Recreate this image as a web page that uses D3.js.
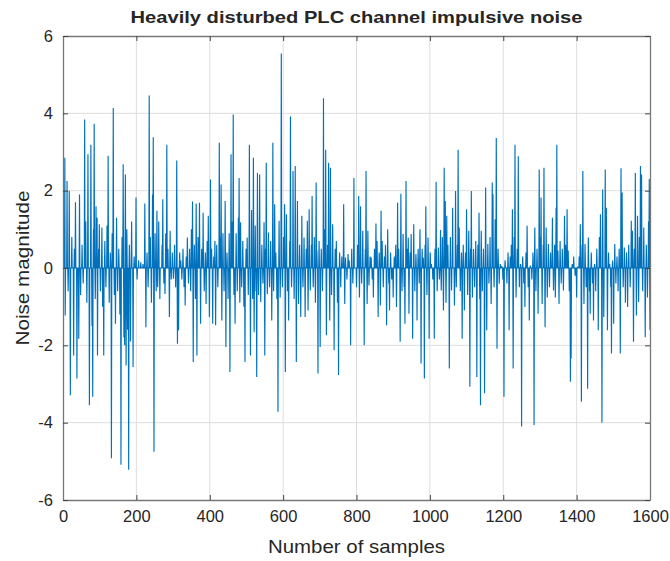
<!DOCTYPE html>
<html>
<head>
<meta charset="utf-8">
<script src="https://cdn.jsdelivr.net/npm/d3@7"></script>
<style>
  body { margin: 0; background: #fff; }
  svg text { font-family: "Liberation Sans", Arial, Helvetica, sans-serif; fill: #262626; }
</style>
</head>
<body>
<svg id="chart" width="670" height="561"></svg>
<script>
// chart texts and ticks
const title = "Heavily disturbed PLC channel impulsive noise";
const xLabel = "Number of samples";
const yLabel = "Noise magnitude";
const xTicks = [0, 200, 400, 600, 800, 1000, 1200, 1400, 1600];
const yTicks = [-6, -4, -2, 0, 2, 4, 6];
const sampleCount = 1600;

// impulses: [sample, magnitude], zero elsewhere
const impulses = [
  [5,2.85],[6,-1.23],[11,2.25],[14,-0.6],[17,2.0],[20,-3.29],[24,0.8],[29,-2.26],[31,0.5],[34,1.7],
  [38,-2.86],[43,-1.83],[45,1.9],[48,-0.7],[52,0.6],[55,-0.4],[59,3.84],[62,1.2],[65,-0.9],[68,2.94],
  [72,-3.55],[76,3.19],[79,-1.5],[81,-3.33],[83,1.0],[85,3.73],[88,-0.8],[90,1.6],[93,1.3],[94,-2.26],
  [97,0.5],[99,1.13],[102,-0.6],[106,1.05],[108,-1.0],[111,-2.26],[114,0.7],[117,-0.5],[120,1.1],[123,2.9],
  [126,-0.9],[129,0.4],[132,-4.92],[134,0.9],[137,4.14],[140,-0.7],[143,-1.44],[146,1.3],[149,-0.6],[152,0.5],
  [155,-1.2],[158,-5.09],[161,0.8],[164,2.68],[166,-1.8],[168,-2.0],[170,2.42],[172,-2.52],[174,1.0],[176,-1.6],
  [179,-5.22],[181,0.6],[184,-1.9],[187,1.2],[191,-2.56],[194,0.3],[199,1.82],[202,-0.3],[206,0.2],[212,0.15],
  [218,0.1],[223,1.67],[226,-1.53],[229,0.4],[232,-0.5],[235,4.46],[238,0.8],[241,-0.9],[244,1.9],[246,3.38],
  [248,-4.75],[251,0.9],[254,-0.6],[256,1.48],[258,-0.5],[261,1.2],[264,-0.8],
  [270,0.6],[272,1.78],[275,-0.4],[278,-0.67],[280,0.9],[283,3.19],[286,0.5],[290,-1.27],[292,0.96],[295,-0.3],
  [298,0.4],[301,-0.28],[304,0.6],[307,-0.5],[310,2.78],[312,-1.96],[315,-1.61],[318,0.4],[321,0.19],[324,-0.3],
  [327,0.5],[330,-0.5],[333,-0.97],[336,0.3],[339,0.79],[342,-0.4],[345,0.5],[348,-0.6],[350,1.0],[353,1.72],
  [355,-2.43],[358,0.6],[361,-0.8],[363,1.67],[365,-2.26],[368,0.8],[372,1.69],[375,-1.44],[378,0.5],[382,1.43],
  [385,-0.6],[388,0.4],[390,-0.93],[393,0.7],[396,1.35],[399,-1.27],[402,2.29],[405,0.5],[408,-1.44],[411,0.3],
  [414,0.7],[416,-1.48],[419,0.6],[422,-0.5],[426,3.24],[429,0.8],[431,2.16],[433,-1.36],[436,0.9],[439,-0.6],
  [442,1.73],[444,-2.04],[447,0.4],[450,-0.8],[453,0.9],[455,-2.69],[458,2.94],[461,1.2],[464,3.97],[466,-0.7],
  [469,-1.44],[472,0.9],[475,-0.6],[478,1.3],[480,2.33],[482,-0.9],[484,1.18],[487,-0.5],[490,0.7],[493,-1.0],
  [496,-2.43],[499,0.5],[502,0.79],[505,-0.7],[508,3.19],[511,-2.26],[514,1.5],[517,-0.8],[519,2.85],[521,-1.66],
  [524,1.1],[526,-0.6],[528,-2.82],[530,2.46],
  [533,-0.7],[536,2.42],[539,-0.88],[542,0.6],[545,-0.4],[548,1.18],[550,-2.26],[552,0.5],[554,2.72],[557,-0.67],
  [560,0.92],[563,-0.5],[566,0.7],[569,-1.36],[572,3.24],[574,-0.6],[577,1.65],[580,0.4],[583,-0.8],[586,-3.72],
  [589,1.22],[592,-0.76],[595,5.55],[598,-0.5],[601,0.8],[604,1.65],[606,-2.69],[609,1.39],[612,-0.6],[615,-1.36],
  [618,0.7],[620,3.92],[623,-0.5],[627,2.51],[630,-0.8],[633,2.64],[636,-2.43],[639,1.73],[642,-0.93],[645,0.6],
  [648,-1.27],[651,1.35],[654,-0.5],[657,0.79],[660,-1.27],[663,0.5],[666,1.22],[668,-1.1],[671,1.52],[674,-0.58],
  [677,0.6],[679,1.86],[682,-0.5],[685,0.8],[688,-0.9],[690,2.21],[692,0.45],[695,-2.73],[698,0.7],[701,-2.04],
  [704,0.5],[707,-0.6],[710,4.39],[713,1.0],[716,3.06],[718,-1.74],[721,0.6],[724,2.72],[727,-1.36],[729,2.59],
  [732,-0.7],[735,1.13],[739,-2.13],[742,0.5],[745,0.7],[748,-0.9],[751,-2.77],[754,0.4],[757,-0.5],[760,0.3],
  [765,1.65],[768,-0.93],[770,0.27],[774,-0.3],[777,0.36],[780,0.2],[784,-2.0],[787,0.5],[790,-0.4],[793,2.33],
  [800,-0.5],[803,0.6],[806,1.86],[808,-0.76],[811,1.6],[814,-0.4],[817,0.96],[821,-2.0],[824,0.5],[826,2.51],
  [829,-0.93],[831,0.96],[834,-0.45],[837,0.3],[840,0.27],[843,-0.3],[846,-0.76],[849,0.5],[853,1.15],[856,0.7],
  [859,-1.27],[862,0.4],[865,-0.97],[867,1.48],[870,0.7],[873,-0.5],[876,0.3],[879,0.6],[882,-1.48],[885,1.0],
  [888,-0.4],[890,-1.1],[893,0.4],[896,-0.3],[900,-0.76],[903,0.3],[907,0.6],[909,-1.01],[912,1.69],[915,0.5],
  [919,-1.91],[921,1.92],[924,-0.6],[927,0.88],[930,-0.5],[932,-1.44],[935,2.25],[938,0.5],[941,0.79],[943,-1.18],
  [946,0.4],[949,0.88],[953,-1.83],[956,1.13],[959,-0.6],[962,0.36],[965,-1.36],[968,0.5],[971,-0.4],[973,1.0],
  [976,-2.47],[979,0.5],[982,0.27],[985,-2.86],[987,0.6],[989,1.6],[992,-0.7],[995,0.79],[998,-1.83],[1001,0.4],
  [1004,0.1],[1008,-0.3],[1012,-1.83],[1014,0.5],[1017,2.23],[1020,-0.6],[1023,0.53],[1026,-0.3],[1029,0.98],[1031,-0.58],
  [1034,0.8],[1037,-1.1],[1039,2.59],[1042,1.73],[1044,-0.9],[1046,1.35],[1049,0.6],[1053,-2.6],[1056,0.8],[1059,-0.58],
  [1062,1.56],
  [1067,-0.97],[1070,1.99],[1072,-0.5],[1075,0.6],[1077,3.06],[1080,1.05],[1083,-0.6],[1086,0.4],[1088,-1.83],[1091,0.6],
  [1094,-1.1],[1097,0.4],[1100,1.52],[1103,-0.7],[1106,0.96],[1109,-3.07],[1111,0.5],[1113,1.99],[1116,-0.76],[1119,0.49],
  [1122,-0.5],[1125,0.7],[1128,-2.82],[1131,0.6],[1134,1.43],[1136,-0.8],[1138,-3.55],[1140,0.96],[1143,-0.6],[1146,0.5],
  [1149,-3.24],[1152,2.08],[1155,-1.61],[1158,0.62],[1161,-0.4],[1164,0.8],[1167,-0.93],[1170,2.21],[1172,1.91],[1175,-0.5],
  [1178,1.26],[1181,3.36],[1183,-2.09],[1186,0.5],[1189,-0.41],[1192,0.1],[1196,0.05],[1199,-0.3],[1202,-3.33],[1205,0.2],
  [1210,-0.4],[1213,0.4],[1216,-1.61],[1219,0.3],[1222,0.6],[1225,1.52],[1227,-2.6],[1230,0.8],[1232,3.19],[1235,-0.76],
  [1238,0.5],[1241,2.89],[1244,-0.5],[1247,0.1],[1250,-4.1],[1253,0.3],[1256,-0.4],[1259,-1.01],[1262,0.4],[1265,1.09],
  [1268,-0.5],[1271,-1.36],[1274,0.06],[1278,-0.3],[1281,0.4],[1284,-4.06],[1286,1.05],[1289,-0.6],[1292,0.5],[1295,-1.18],
  [1298,2.55],[1301,0.8],[1303,1.82],[1306,-0.93],[1309,0.6],[1311,2.59],[1314,-1.53],[1317,1.05],[1320,-0.76],[1323,0.62],
  [1326,-0.5],[1329,0.4],
  [1334,1.3],[1337,-0.58],[1340,0.6],[1342,-0.76],[1344,1.56],[1346,3.19],[1349,0.45],[1352,-0.93],[1355,0.7],[1358,-0.4],
  [1361,0.5],[1364,-0.58],[1367,1.35],[1370,0.6],[1374,1.52],[1377,0.45],[1380,-0.6],[1383,-2.94],[1385,-2.34],[1388,0.1],
  [1392,0.3],[1396,-0.2],[1400,-0.76],[1403,0.02],[1407,0.3],[1410,1.13],[1413,-3.46],[1415,0.6],[1417,2.51],[1420,-0.93],
  [1423,0.62],[1426,-0.5],[1430,-3.12],[1432,0.79],[1435,-0.6],[1437,-1.18],[1440,0.4],[1443,-0.4],[1446,-1.36],[1449,0.1],
  [1452,-0.6],[1455,0.5],[1459,-1.61],[1462,0.8],[1465,1.39],[1469,-4.0],[1471,2.03],[1474,-1.27],[1478,2.55],[1481,1.56],
  [1484,-1.61],[1487,0.4],[1490,0.1],[1493,-0.5],[1495,-2.21],[1498,0.19],[1501,-1.44],[1504,0.62],[1507,-0.4],[1510,0.3],
  [1513,-0.6],[1516,0.5],[1519,-2.21],[1521,2.58],[1524,1.95],[1527,-0.5],[1530,0.53],[1533,-0.9],[1536,0.4],[1539,-1.01],
  [1542,0.6],[1546,-0.5],[1549,1.22],[1552,0.96],[1555,-1.91],[1557,0.5],[1560,2.46],[1563,-1.23],[1566,1.35],[1569,-0.88],
  [1571,0.8],[1574,2.64],[1577,2.42],[1580,-0.6],[1583,1.05],[1587,-1.79],[1590,0.6],[1593,-0.76],[1596,1.2],[1598,2.3],
  [1600,-1.6]
];

// full series, 1..1600
const series = d3.range(1, sampleCount + 1).map(s => ({ s, v: 0 }));
impulses.forEach(([s, v]) => { series[s - 1].v = v; });

const svg = d3.select("#chart");
const margin = { left: 63, right: 20, top: 36, bottom: 61 };
const W = 670, H = 561;

const x = d3.scaleLinear().domain([0, 1600]).range([margin.left, W - margin.right]);
const y = d3.scaleLinear().domain([-6, 6]).range([H - margin.bottom, margin.top]);

// grid
svg.append("g")
  .selectAll("line")
  .data(xTicks.slice(1, -1))
  .join("line")
  .attr("x1", d => x(d)).attr("x2", d => x(d))
  .attr("y1", y(6)).attr("y2", y(-6))
  .attr("stroke", "#dedede").attr("stroke-width", 1);
svg.append("g")
  .selectAll("line")
  .data(yTicks.slice(1, -1))
  .join("line")
  .attr("x1", x(0)).attr("x2", x(1600))
  .attr("y1", d => y(d)).attr("y2", d => y(d))
  .attr("stroke", "#dedede").attr("stroke-width", 1);

// signal
svg.append("clipPath").attr("id", "clip")
  .append("rect")
  .attr("x", x(0)).attr("y", y(6))
  .attr("width", x(1600) - x(0)).attr("height", y(-6) - y(6));

const line = d3.line().x(d => x(d.s)).y(d => y(d.v));
svg.append("path")
  .datum(series)
  .attr("clip-path", "url(#clip)")
  .attr("d", line)
  .attr("fill", "none")
  .attr("stroke", "#0072BD")
  .attr("stroke-width", 1.15)
  .attr("stroke-linejoin", "miter");

// axes (MATLAB style: inner ticks, full box)
const tickLen = 5;
const axisCol = "#777";
const fmt = d => String(d);
const axBottom = d3.axisBottom(x).tickValues(xTicks).tickSizeInner(-tickLen).tickSizeOuter(0).tickPadding(10).tickFormat(fmt);
const axTop = d3.axisTop(x).tickValues(xTicks).tickSizeInner(-tickLen).tickSizeOuter(0).tickFormat("");
const axLeft = d3.axisLeft(y).tickValues(yTicks).tickSizeInner(-tickLen).tickSizeOuter(0).tickPadding(10).tickFormat(fmt);
const axRight = d3.axisRight(y).tickValues(yTicks).tickSizeInner(-tickLen).tickSizeOuter(0).tickFormat("");

function styleAxis(g) {
  g.selectAll("path").attr("stroke", axisCol).attr("stroke-width", 1.3);
  g.selectAll("line").attr("stroke", "#444").attr("stroke-width", 1);
  g.selectAll("text").attr("font-size", 16.5).attr("fill", "#262626")
    .style("font-family", "'Liberation Sans', Arial, sans-serif");
}

svg.append("g").attr("transform", `translate(0,${y(-6)})`).call(axBottom).call(styleAxis);
svg.append("g").attr("transform", `translate(0,${y(6)})`).call(axTop).call(styleAxis);
svg.append("g").attr("transform", `translate(${x(0)},0)`).call(axLeft).call(styleAxis);
svg.append("g").attr("transform", `translate(${x(1600)},0)`).call(axRight).call(styleAxis);

// labels
svg.append("text")
  .attr("x", (x(0) + x(1600)) / 2).attr("y", 23)
  .attr("text-anchor", "middle")
  .attr("font-size", 16.5).attr("font-weight", "bold")
  .attr("fill", "#000")
  .attr("textLength", 452).attr("lengthAdjust", "spacingAndGlyphs")
  .text(title);

svg.append("text")
  .attr("x", (x(0) + x(1600)) / 2).attr("y", 553)
  .attr("text-anchor", "middle")
  .attr("font-size", 19)
  .attr("textLength", 177).attr("lengthAdjust", "spacingAndGlyphs")
  .text(xLabel);

svg.append("text")
  .attr("transform", `translate(29,${(y(6) + y(-6)) / 2}) rotate(-90)`)
  .attr("text-anchor", "middle")
  .attr("font-size", 19)
  .attr("textLength", 155).attr("lengthAdjust", "spacingAndGlyphs")
  .text(yLabel);
</script>
</body>
</html>
